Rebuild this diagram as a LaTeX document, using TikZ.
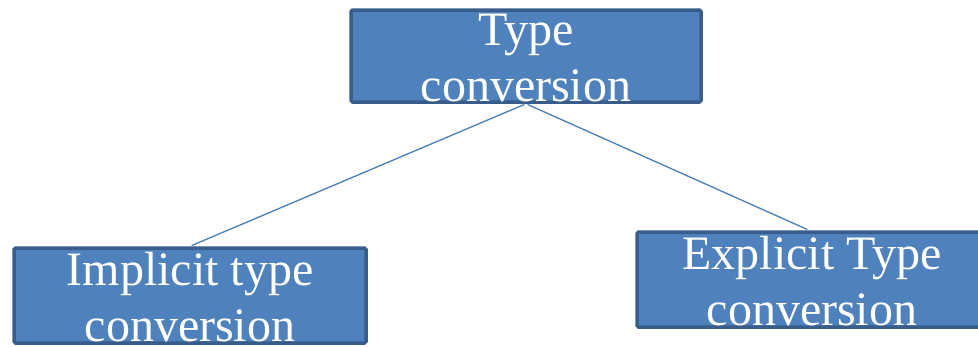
\documentclass[tikz,border=0pt]{standalone}
\usepackage{fontspec}
\setmainfont{Liberation Serif}
\definecolor{boxfill}{HTML}{4F81BD}
\definecolor{boxline}{HTML}{385D8A}
\definecolor{edgeblue}{HTML}{4A7EBB}

\begin{document}
\begin{tikzpicture}[x=1pt, y=-1pt,
        box/.style={draw=boxline, fill=boxfill, line width=3.5pt, rounded corners=1.5pt, inner sep=0pt},
        boxtext/.style={text=white, align=center, inner sep=0pt, font=\fontsize{48}{56}\selectfont},
        edge/.style={draw=edgeblue, line width=1.3pt, shorten <=1.75pt, shorten >=1.75pt}]
                \useasboundingbox (0,0) rectangle (978,346);
                \clip (0,0) rectangle (978,346);

                % Draw the boxes
                \node[box, minimum width=350pt, minimum height=92pt] (conv) at (526,56) {};
                \node[box, minimum width=352pt, minimum height=95pt] (impl) at (190,295.5) {};
                \node[box, minimum width=344pt, minimum height=95pt] (expl) at (809,279.5) {};

                % Draw the edges from the root to the two kinds
                \draw[edge] (conv.south) -- (impl.north);
                \draw[edge] (conv.south) -- (expl.north);

                % Draw the box texts
                \node[boxtext] (convtext) at (526,58) {Type\\conversion};
                \node[boxtext] (impltext) at (190,297) {Implicit type\\conversion};
                \node[boxtext] (expltext) at (812,281) {Explicit Type\\conversion};
\end{tikzpicture}
\end{document}
